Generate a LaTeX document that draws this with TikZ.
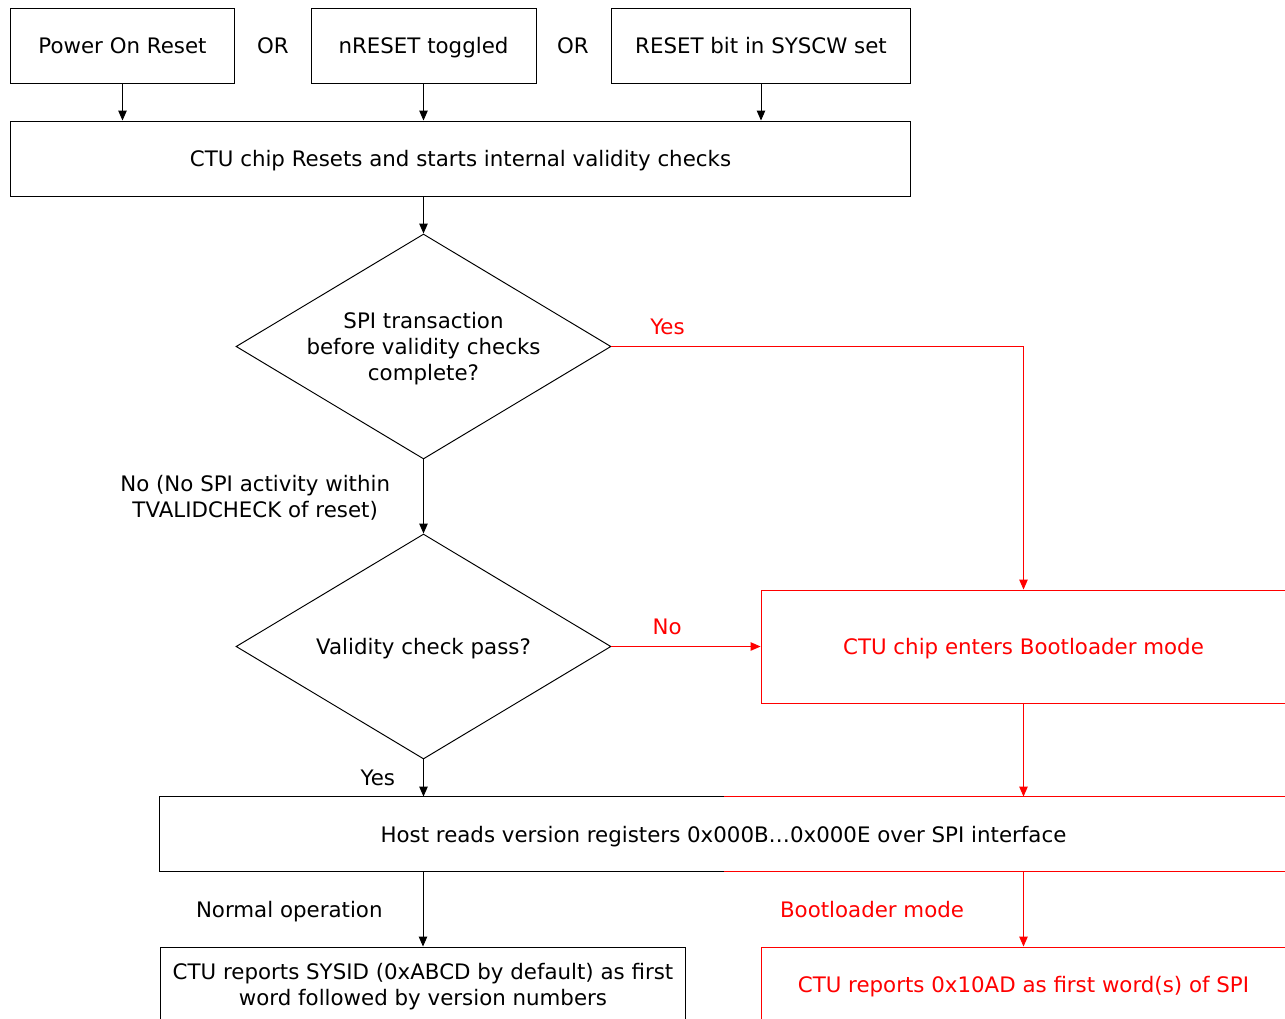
\documentclass[tikz,border=0pt]{standalone}
\usepackage{fontspec}
\setmainfont{DejaVu Sans}
\usepackage{tikz}
\usetikzlibrary{arrows.meta,shapes.geometric}
\tikzset{
  box/.style    ={draw,rectangle,inner sep=2pt,align=center,minimum height=15mm,
                  text depth=0pt},
  redbox/.style ={box,draw=red,text=red},
  decide/.style ={diamond,draw,aspect=1.667,inner sep=0pt,align=center,text depth=0pt,
                  minimum width=75mm,minimum height=45mm},
  flow/.style   ={-{Triangle[length=2mm,width=1.7mm]}},
  redflow/.style={flow,red},
  lbl/.style    ={align=center,inner sep=0pt,text depth=0pt},
  redlbl/.style ={lbl,text=red},
}

\begin{document}
\begin{tikzpicture}[x=0.02cm,y=-0.02cm,line width=0.55pt,
  font=\fontsize{12.15}{14.6}\selectfont]
  \useasboundingbox (0,0) rectangle (1285,1018);
  % top: three reset sources
  \node[box,minimum width=45mm] (por) at (122.5,45.5) {Power On Reset};
  \node[lbl] (or1) at (273,45.5) {OR};
  \node[box,minimum width=45mm] (nrst) at (423.5,45.5) {nRESET toggled};
  \node[lbl] (or2) at (573,45.5) {OR};
  \node[box,minimum width=60mm] (sysw) at (761,45.5) {RESET bit in SYSCW set};
  \node[box,minimum width=180.2mm] (chk) at (460.5,158.5)
    {CTU chip Resets and starts internal validity checks};
  % decisions
  \node[decide] (spi) at (423.5,346.5) {SPI transaction\\before validity checks\\complete?};
  \node[decide] (pass) at (423.5,646.5) {Validity check pass?};
  \node[redbox,minimum width=105mm,minimum height=22.6mm] (boot) at (1023.5,646.5)
    {CTU chip enters Bootloader mode};
  % host read, border drawn below in two colours
  \node[box,draw=none,minimum width=225.4mm,minimum height=14.8mm] (host) at (723.5,834)
    {Host reads version registers 0x000B\ldots0x000E over SPI interface};
  \node[box,minimum width=105.2mm] (sysid) at (423,984.5)
    {CTU reports SYSID (0xABCD by default) as first\\word followed by version numbers};
  \node[redbox,minimum width=105mm] (blid) at (1023.5,984.5)
    {CTU reports 0x10AD as first word(s) of SPI};

  \draw (host.north) -- (host.north west) -- (host.south west) -- (host.south);
  \draw[red] (host.north) -- (host.north east) -- (host.south east) -- (host.south);

  % connectors
  \draw[flow] (por.south) -- (por.south |- chk.north);
  \draw[flow] (nrst.south) -- (nrst.south |- chk.north);
  \draw[flow] (sysw.south) -- (sysw.south |- chk.north);
  \draw[flow] (spi.north |- chk.south) -- (spi.north);
  \draw[flow] (spi.south) -- node[lbl,left=6.6mm]{No (No SPI activity within\\TVALIDCHECK of reset)} (pass.north);
  \draw[redflow] (spi.east) -| node[redlbl,pos=0.068,above=2.4mm]{Yes} (boot.north);
  \draw[redflow] (pass.east) -- node[redlbl,pos=0.373,above=2.4mm]{No} (boot.west);
  \draw[redflow] (boot.south) -- (boot.south |- host.north);
  \draw[flow] (pass.south) -- node[lbl,left=5.6mm]{Yes} (pass.south |- host.north);
  \draw[flow] (sysid.north |- host.south) -- node[lbl,left=8mm]{Normal operation} (sysid.north);
  \draw[redflow] (blid.north |- host.south) -- node[redlbl,left=11.8mm]{Bootloader mode} (blid.north);
\end{tikzpicture}
\end{document}
